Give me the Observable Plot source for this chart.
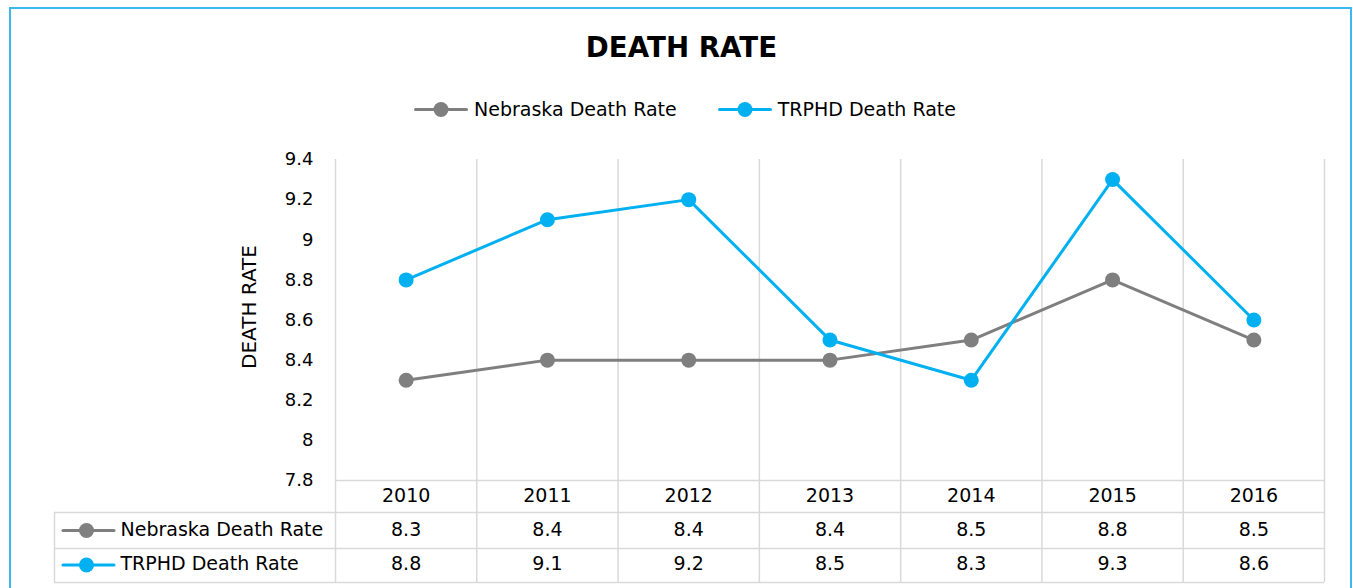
<!DOCTYPE html>
<html><head><meta charset="utf-8">
<script src="https://cdn.jsdelivr.net/npm/d3@7"></script>
<script src="https://cdn.jsdelivr.net/npm/@observablehq/plot@0.6"></script>
<style>
body{margin:0;background:#fff;font-family:"DejaVu Sans",sans-serif;color:#000;}
#frame{position:absolute;left:9px;top:7px;width:1343px;height:640px;border:2px solid #3DB8EE;box-sizing:border-box;}
#title{position:absolute;left:0;width:1363px;top:34px;text-align:center;font-weight:700;font-size:27.7px;line-height:1;}
#legend{position:absolute;top:100px;left:0;width:1370px;display:flex;justify-content:center;gap:41px;font-size:19px;line-height:1;}
.item{display:flex;align-items:center;gap:6px;}
#chart{position:absolute;left:0;top:140px;}
</style></head><body>
<div id="frame"></div>
<div id="title">DEATH RATE</div>
<div id="legend"></div>
<div id="chart"></div>
<script>
const years = [2010, 2011, 2012, 2013, 2014, 2015, 2016];
const nebraska = [8.3, 8.4, 8.4, 8.4, 8.5, 8.8, 8.5];
const trphd = [8.8, 9.1, 9.2, 8.5, 8.3, 9.3, 8.6];
const seriesNames = ["Nebraska Death Rate", "TRPHD Death Rate"];
const seriesColors = ["#7F7F7F", "#00B0F0"];
const yTicks = [7.8, 8.0, 8.2, 8.4, 8.6, 8.8, 9.0, 9.2, 9.4];
const axisTitle = "DEATH RATE";

const seriesValues = [nebraska, trphd];
const data = seriesNames.flatMap((s, k) => years.map((yr, i) => ({series: s, year: yr, value: seriesValues[k][i]})));
const bounds = years.map(y => y - 0.5).concat([years[years.length - 1] + 0.5]);
const x0 = bounds[0];

// legend
const legend = d3.select("#legend");
seriesNames.forEach((s, k) => {
  const it = legend.append("div").attr("class", "item");
  const sv = it.append("svg").attr("width", 54).attr("height", 19);
  sv.append("line").attr("x1", 1.5).attr("x2", 52.5).attr("y1", 9.5).attr("y2", 9.5).attr("stroke", seriesColors[k]).attr("stroke-width", 3).attr("stroke-linecap", "round");
  sv.append("circle").attr("cx", 27).attr("cy", 9.5).attr("r", 7.5).attr("fill", seriesColors[k]);
  it.append("span").text(s);
});

const grid = "#D9D9D9";
const rowDy = [15.5, 49, 83.5];
const fs = 19;

const marks = [
  Plot.ruleX(bounds, {stroke: grid, strokeWidth: 1.5, insetBottom: -102}),
  Plot.ruleY([yTicks[0]], {stroke: grid, strokeWidth: 1.5}),
  Plot.ruleY([yTicks[0]], {stroke: grid, strokeWidth: 1.5, dy: 32, insetLeft: -281}),
  Plot.ruleY([yTicks[0]], {stroke: grid, strokeWidth: 1.5, dy: 68, insetLeft: -281}),
  Plot.ruleY([yTicks[0]], {stroke: grid, strokeWidth: 1.5, dy: 102, insetLeft: -281}),
  Plot.ruleX([x0], {stroke: grid, strokeWidth: 1.5, dx: -281, insetTop: 353, insetBottom: -102}),
  Plot.axisY(yTicks, {tickSize: 0, tickPadding: 22, fontSize: 18, label: null, tickFormat: d => String(+d.toFixed(1))}),
  Plot.text([axisTitle], {frameAnchor: "left", textAnchor: "middle", lineAnchor: "middle", rotate: -90, dx: -86, dy: -13, fontSize: 20}),
  Plot.text(years, {x: d => d, frameAnchor: "bottom", lineAnchor: "middle", dy: rowDy[0], fontSize: fs, text: d => String(d)}),
];
seriesNames.forEach((s, k) => {
  const rows = data.filter(d => d.series === s);
  marks.push(Plot.text(rows, {x: "year", frameAnchor: "bottom", lineAnchor: "middle", dy: rowDy[k + 1], fontSize: fs, text: d => d.value.toFixed(1)}));
  marks.push(Plot.ruleY([yTicks[0]], {stroke: seriesColors[k], strokeWidth: 3, dy: rowDy[k + 1] + 1, insetLeft: -272, insetRight: 1210, strokeLinecap: "round"}));
  marks.push(Plot.dot([x0], {x: d => d, frameAnchor: "bottom", dx: -249, dy: rowDy[k + 1] + 1, r: 7.5, fill: seriesColors[k]}));
  marks.push(Plot.text([s], {x: () => x0, frameAnchor: "bottom", lineAnchor: "middle", dx: -215, dy: rowDy[k + 1], textAnchor: "start", fontSize: fs}));
});
seriesNames.forEach((s, k) => {
  const rows = data.filter(d => d.series === s);
  marks.push(Plot.line(rows, {x: "year", y: "value", stroke: seriesColors[k], strokeWidth: 3}));
  marks.push(Plot.dot(rows, {x: "year", y: "value", r: 7.5, fill: seriesColors[k]}));
});

const chart = Plot.plot({
  width: 1353, height: 448,
  marginLeft: 335, marginRight: 29, marginTop: 19, marginBottom: 108,
  x: {domain: [bounds[0], bounds[bounds.length - 1]], axis: null},
  y: {domain: [yTicks[0], yTicks[yTicks.length - 1]], axis: null},
  style: {fontFamily: "'DejaVu Sans', sans-serif", color: "#000", background: "transparent", overflow: "visible"},
  marks
});
document.getElementById("chart").appendChild(chart);
</script>
</body></html>
